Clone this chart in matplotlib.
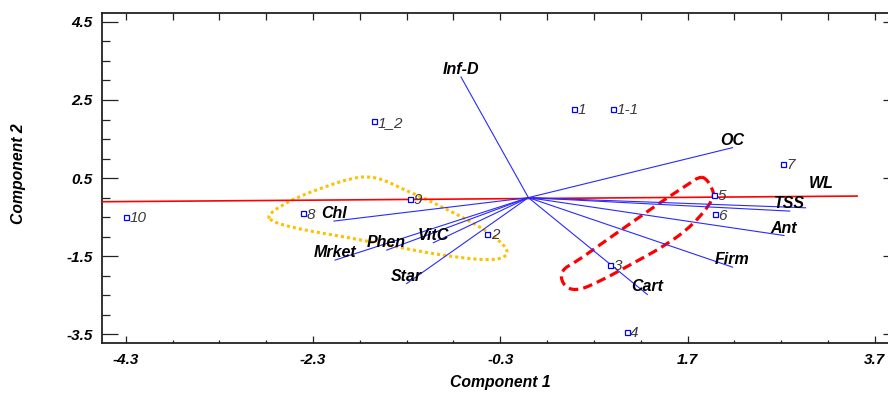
import matplotlib
matplotlib.use('Agg')
import matplotlib.pyplot as plt
from matplotlib.path import Path
from matplotlib.patches import PathPatch
from matplotlib.ticker import FixedLocator
import numpy as np

plt.rcParams['font.family'] = ['Liberation Sans', 'DejaVu Sans']

# ---- data ----
obs_labels = ['10', '8', '9', '2', '1_2', '1', '1-1', '7', '5', '6', '3', '4']
obs_x = [-4.30, -2.41, -1.26, -0.44, -1.645, 0.487, 0.907, 2.72, 1.985, 1.993, 0.875, 1.05]
obs_y = [-0.49, -0.40, -0.03, -0.92, 1.95, 2.28, 2.28, 0.87, 0.075, -0.42, -1.72, -3.43]

var_labels = ['Inf-D', 'OC', 'WL', 'TSS', 'Ant', 'Firm', 'Cart', 'Chl', 'Mrket', 'Phen', 'VitC', 'Star']
var_x = [-0.72, 2.18, 2.96, 2.79, 2.73, 2.18, 1.27, -2.076, -2.065, -1.513, -1.015, -1.30]
var_y = [3.09, 1.28, -0.26, -0.345, -0.97, -1.78, -2.48, -0.60, -1.60, -1.344, -1.155, -2.20]

red_line_x = [-4.55, 3.51]
red_line_y = [-0.105, 0.04]

yellow_x = [-2.79, -2.652, -2.439, -2.154, -1.905, -1.727, -1.549, -1.336, -1.122, -0.872,
            -0.659, -0.445, -0.303, -0.21, -0.27, -0.445, -0.730, -1.086, -1.443, -1.727,
            -2.012, -2.332, -2.581, -2.74]
yellow_y = [-0.473, -0.217, 0.039, 0.295, 0.485, 0.55, 0.467, 0.211, -0.002, -0.302,
            -0.558, -0.857, -1.113, -1.38, -1.56, -1.60, -1.538, -1.410, -1.241, -1.113,
            -0.985, -0.857, -0.729, -0.601]

red_x = [1.886, 1.96, 1.99, 1.761, 1.477, 1.120, 0.765, 0.50, 0.36, 0.345,
         0.516, 0.765, 1.120, 1.477, 1.726, 1.814]
red_y = [0.52, 0.26, -0.012, -0.693, -1.206, -1.677, -2.145, -2.41, -2.22, -1.86,
         -1.633, -1.206, -0.609, -0.012, 0.372, 0.52]

x_major = [-4.3, -2.3, -0.3, 1.7, 3.7]
x_major_labels = ['-4.3', '-2.3', '-0.3', '1.7', '3.7']
y_major = [-3.5, -1.5, 0.5, 2.5, 4.5]
y_major_labels = ['-3.5', '-1.5', '0.5', '2.5', '4.5']
x_minor = np.arange(-4.3, 3.75, 0.5)
y_minor = np.arange(-3.5, 4.55, 0.5)

# ---- figure ----
W, H = 888, 394
fig = plt.figure(figsize=(W / 100, H / 100), dpi=100)
ax = fig.add_axes([102.3 / W, 1 - 343.3 / H, 1 - 102.3 / W, (343.3 - 13.3) / H])
ax.set_xlim(-4.55, 3.84)
ax.set_ylim(-3.73, 4.72)

for s in ['left', 'bottom', 'top']:
    ax.spines[s].set_linewidth(1.3)
    ax.spines[s].set_color('#222222')
ax.spines['right'].set_visible(False)

tick_font = dict(fontsize=11, fontweight='bold', style='italic')
ax.xaxis.set_major_locator(FixedLocator(x_major))
ax.xaxis.set_minor_locator(FixedLocator(x_minor))
ax.yaxis.set_major_locator(FixedLocator(y_major))
ax.yaxis.set_minor_locator(FixedLocator(y_minor))
ax.set_xticklabels(x_major_labels, **tick_font)
ax.set_yticklabels(y_major_labels, **tick_font)
ax.tick_params(axis='x', which='major', direction='in', length=5, width=0.9, pad=7, color='#222222')
ax.tick_params(axis='x', which='minor', direction='in', length=2.2, width=0.9, color='#222222')
ax.tick_params(axis='y', which='major', direction='in', length=11.5, width=0.9, pad=7, color='#222222')
ax.tick_params(axis='y', which='minor', direction='in', length=5.8, width=0.9, color='#222222')

secx = ax.secondary_xaxis('top')
secx.xaxis.set_major_locator(FixedLocator(x_major))
secx.xaxis.set_minor_locator(FixedLocator(x_minor))
secx.tick_params(which='both', direction='in', length=5, width=0.9, labeltop=False, color='#222222')
for sp in secx.spines.values():
    sp.set_visible(False)

secy = ax.secondary_yaxis('right')
secy.yaxis.set_major_locator(FixedLocator(y_major))
secy.yaxis.set_minor_locator(FixedLocator([]))
secy.tick_params(which='major', direction='in', length=3.8, width=0.9, labelright=False, color='#222222')
for sp in secy.spines.values():
    sp.set_visible(False)

# enclosing curves (smooth closed paths through midpoints)
def closed_smooth_path(xs, ys):
    pts = np.column_stack([xs, ys])
    mids = (pts + np.roll(pts, -1, axis=0)) / 2
    verts = [mids[-1]]
    codes = [Path.MOVETO]
    for i in range(len(pts)):
        verts += [pts[i], mids[i]]
        codes += [Path.CURVE3, Path.CURVE3]
    return Path(verts, codes)

ax.add_patch(PathPatch(closed_smooth_path(yellow_x, yellow_y), fill=False,
                       edgecolor='#FFC000', lw=2.2, linestyle=(0, (1, 1)), zorder=2))
ax.add_patch(PathPatch(closed_smooth_path(red_x, red_y), fill=False,
                       edgecolor='#FF0000', lw=2.3, linestyle=(0, (3, 1.6)), zorder=2))

# red axis line
ax.plot(red_line_x, red_line_y, color='#FF0000', lw=1.2, zorder=3)

# vectors
for lab, vx, vy in zip(var_labels, var_x, var_y):
    ax.plot([0, vx], [0, vy], color='#2a2aff', lw=0.8, zorder=3)
    off = (16, 20) if lab == 'WL' else (0, 3)
    ax.annotate(lab, (vx, vy), xytext=off, textcoords='offset pixels',
                ha='center', va='baseline', fontsize=11.5, fontweight='bold',
                style='italic', color='black', zorder=5)

# observations
ax.plot(obs_x, obs_y, linestyle='none', marker='s', markersize=3.6,
        markerfacecolor='white', markeredgecolor='#0000FF', markeredgewidth=0.9, zorder=4)
for lab, ox, oy in zip(obs_labels, obs_x, obs_y):
    ax.annotate(lab, (ox, oy), xytext=(3.5, 0), textcoords='offset pixels',
                ha='left', va='center_baseline', fontsize=11, style='italic',
                color='#3a3a3a', zorder=5)

fig.text(500 / W, 1 - 383 / H, 'Component 1', ha='center', va='center',
         fontsize=11.3, fontweight='bold', style='italic')
fig.text(18 / W, 1 - 173.5 / H, 'Component 2', ha='center', va='center', rotation=90,
         fontsize=11.3, fontweight='bold', style='italic')

fig.savefig('out.png', dpi=100)
